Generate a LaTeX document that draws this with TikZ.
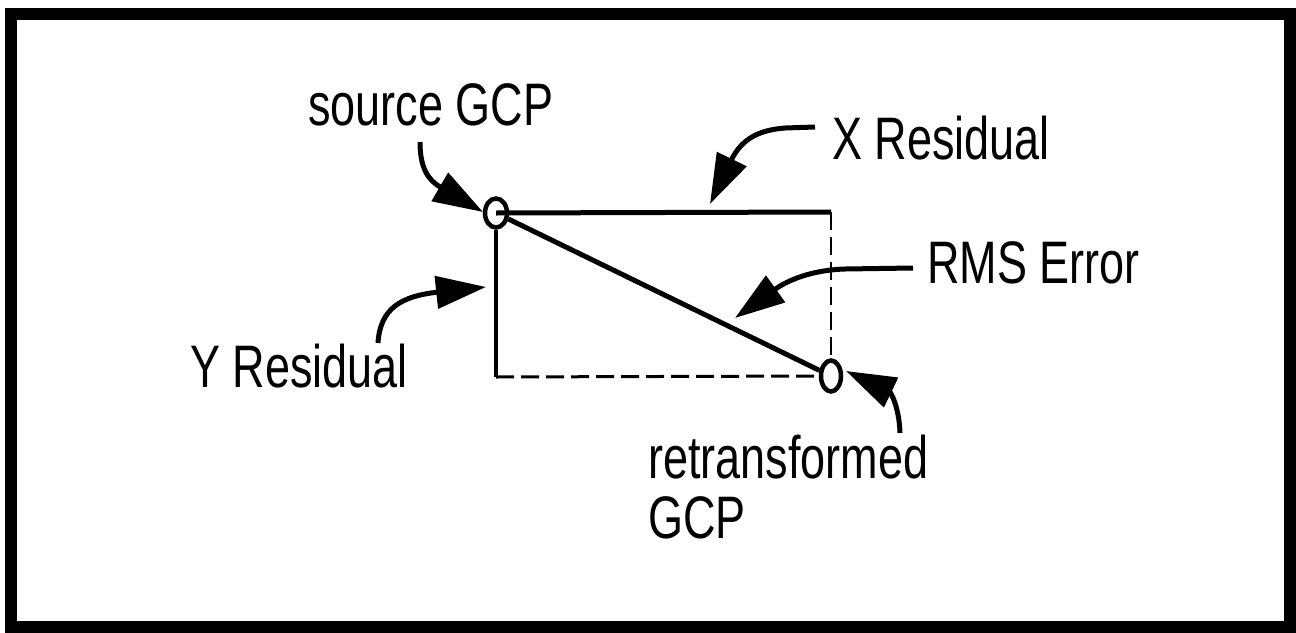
\documentclass[tikz,border=0pt]{standalone}
\usepackage{fontspec}
\setmainfont{Liberation Sans}[FakeStretch=0.75]
\usetikzlibrary{arrows.meta,shapes.geometric}
\begin{document}
\begin{tikzpicture}[x=1pt,y=-1pt,
  lbl/.style={anchor=base west,inner sep=0pt,font=\fontsize{60}{60}\selectfont},
  gcp/.style={draw,ellipse,line width=4.5pt,inner sep=0pt},
  pointer/.style={line width=5pt,-{Triangle[length=50pt,width=32pt]}},
  solidside/.style={line width=5pt},
  dashside/.style={line width=2.5pt,dash pattern=on 18pt off 7pt}]
\useasboundingbox (0,0) rectangle (1296,632);
\draw[line width=12pt] (11,14) rectangle (1290,627);
% points
\node[gcp,minimum width=22pt,minimum height=29pt] (src) at (496,213) {};
\node[gcp,minimum width=20pt,minimum height=31pt] (ret) at (831,376) {};
\coordinate (tr) at (831,212);
\coordinate (bl) at (496,377);
% residual rectangle
\draw[solidside] (src.center) -- (tr);
\draw[line width=4pt] (src.south) -- (bl);
\draw[dashside] (tr) -- (ret.north);
\draw[dashside,line width=3pt] (bl) -- (ret.west);
\draw[solidside] (src) -- (ret);
% labels
\node[lbl] (tsrc) at (308,125) {source GCP};
\node[lbl] (tx) at (832,159) {X Residual};
\node[lbl] (trms) at (927,283) {RMS Error};
\node[lbl] (ty) at (190,387) {Y Residual};
\node[lbl,align=left] (tret) at (648,478) {retransformed};
\node[lbl] (tret2) at (648,538) {GCP};
% pointers
\coordinate (a1) at (420,142);
\coordinate (a1t) at (483,212);
\draw[pointer] (a1) .. controls (420,168) and (428,180) .. (a1t);
\coordinate (a2) at (815,127);
\coordinate (a2t) at (710,204);
\draw[pointer] (a2) -- (785,128) .. controls (760,130) and (742,138) .. (a2t);
\coordinate (a3) at (913,268);
\coordinate (a3t) at (735,318);
\draw[pointer] (a3) -- (845,269) .. controls (812,270) and (788,280) .. (a3t);
\coordinate (a4) at (378,343);
\coordinate (a4t) at (486,287);
\draw[pointer] (a4) .. controls (380,308) and (402,296) .. (a4t);
\coordinate (a5) at (900,433);
\coordinate (a5t) at (846,371);
\draw[pointer] (a5) .. controls (899,405) and (890,392) .. (a5t);
\end{tikzpicture}
\end{document}
